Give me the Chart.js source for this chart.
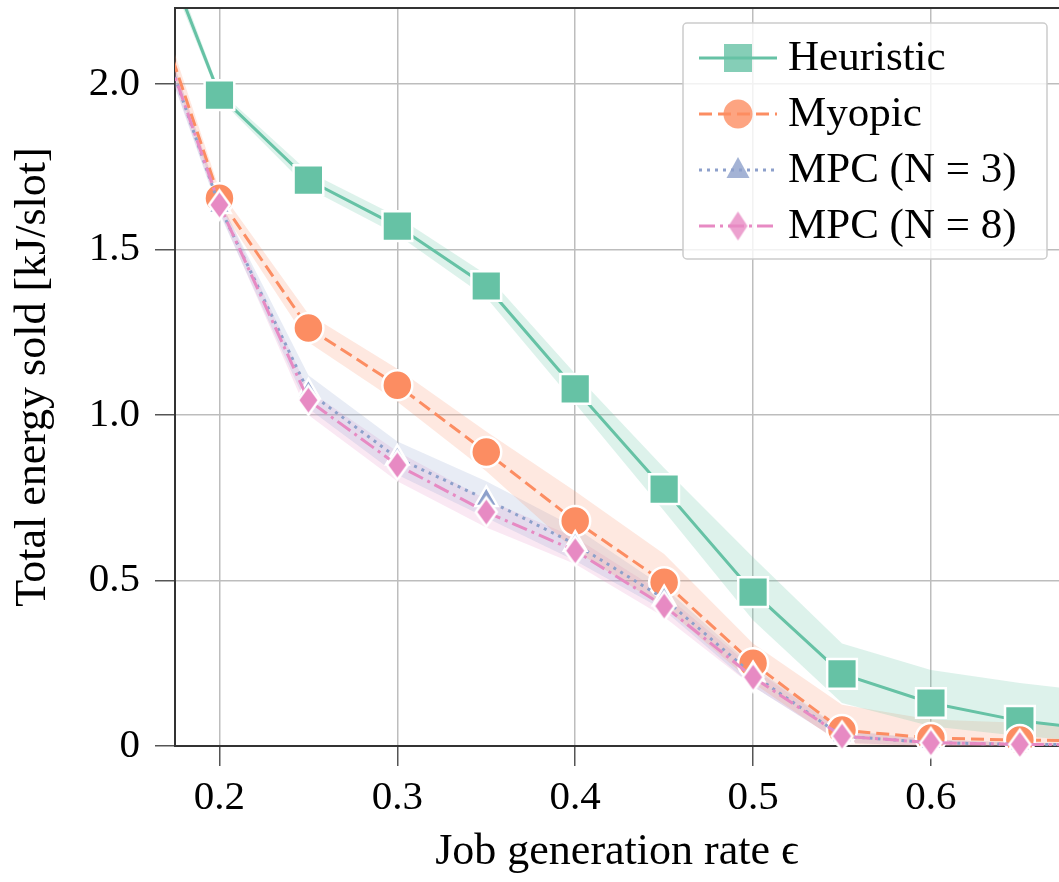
<!DOCTYPE html>
<html>
<head>
<meta charset="utf-8">
<script src="https://cdn.jsdelivr.net/npm/chart.js@4.4.1/dist/chart.umd.min.js"></script>
<style>
  html, body { margin: 0; padding: 0; background: #fff; }
  #wrap { width: 1059px; height: 882px; }
</style>
</head>
<body>
<div id="wrap"><canvas id="energyChart" width="1059" height="882"></canvas></div>
<script>
// --- Datos ---
const rates = [0.15, 0.2, 0.25, 0.3, 0.35, 0.4, 0.45, 0.5, 0.55, 0.6, 0.65, 0.7];

const heuristic     = [2.66, 1.967, 1.71, 1.571, 1.39, 1.079, 0.776, 0.465, 0.218, 0.13, 0.076, 0.046];
const heuristicHigh = [2.70, 1.980, 1.735, 1.60, 1.425, 1.125, 0.840, 0.570, 0.310, 0.23, 0.190, 0.160];
const heuristicLow  = [2.62, 1.955, 1.685, 1.545, 1.355, 1.035, 0.710, 0.380, 0.130, 0.06, 0.030, 0.010];

const myopic     = [2.455, 1.655, 1.263, 1.09, 0.888, 0.68, 0.495, 0.25, 0.048, 0.024, 0.018, 0.015];
const myopicHigh = [2.50, 1.680, 1.305, 1.14, 0.950, 0.77, 0.580, 0.31, 0.125, 0.080, 0.070, 0.060];
const myopicLow  = [2.41, 1.630, 1.220, 1.04, 0.830, 0.59, 0.420, 0.19, 0.005, 0.000, 0.000, 0.000];

const mpc3     = [2.41, 1.63, 1.07, 0.87, 0.745, 0.61, 0.445, 0.215, 0.03, 0.01, 0.005, 0.003];
const mpc3High = [2.45, 1.65, 1.12, 0.92, 0.800, 0.66, 0.480, 0.240, 0.05, 0.02, 0.010, 0.008];
const mpc3Low  = [2.37, 1.61, 1.02, 0.82, 0.690, 0.56, 0.410, 0.180, 0.01, 0.00, 0.000, 0.000];

const mpc8     = [2.41, 1.635, 1.045, 0.849, 0.707, 0.59, 0.423, 0.208, 0.03, 0.01, 0.005, 0.003];
const mpc8High = [2.45, 1.655, 1.075, 0.890, 0.745, 0.63, 0.460, 0.235, 0.045, 0.02, 0.010, 0.008];
const mpc8Low  = [2.37, 1.615, 1.000, 0.800, 0.660, 0.55, 0.390, 0.180, 0.010, 0.00, 0.000, 0.000];

const seriesNames = ['Heuristic', 'Myopic', 'MPC (N = 3)', 'MPC (N = 8)'];
const xTicks = [0.2, 0.3, 0.4, 0.5, 0.6];
const yTicks = [0, 0.5, 1.0, 1.5, 2.0];

// --- Estilos ---
const FONT = "'Liberation Serif', 'Times New Roman', serif";
const colors = ['#66c2a5', '#fc8d62', '#8da0cb', '#e78ac3'];
const bandColors = ['rgba(102,194,165,0.22)', 'rgba(252,141,98,0.2)', 'rgba(141,160,203,0.2)', 'rgba(231,138,195,0.2)'];
const dashes = [[], [13, 6], [3, 5], [16, 5, 3, 5]];

function toPoints(arr) {
    return rates.map((x, i) => ({ x: x, y: arr[i] }));
}

// rombo delgado como en matplotlib ('d')
function makeDiamond(w, h, fill, edge, lw, alpha) {
    const m = 5;
    const c = document.createElement('canvas');
    c.width = w + 2 * m;
    c.height = h + 2 * m;
    const g = c.getContext('2d');
    g.globalAlpha = alpha;
    g.beginPath();
    g.moveTo(c.width / 2, m);
    g.lineTo(c.width / 2 + w / 2, c.height / 2);
    g.lineTo(c.width / 2, c.height - m);
    g.lineTo(c.width / 2 - w / 2, c.height / 2);
    g.closePath();
    g.fillStyle = fill;
    g.fill();
    if (edge) {
        g.lineWidth = lw;
        g.strokeStyle = edge;
        g.stroke();
    }
    return c;
}
const plotDiamond = makeDiamond(21, 29, colors[3], '#fff', 2.5, 1);
const legendDiamond = makeDiamond(19, 29, colors[3], null, 0, 0.8);

const bandSets = [
    [heuristicHigh, heuristicLow],
    [myopicHigh, myopicLow],
    [mpc3High, mpc3Low],
    [mpc8High, mpc8Low]
];
const lineSets = [heuristic, myopic, mpc3, mpc8];
const pointStyles = ['rect', 'circle', 'triangle', plotDiamond];
const pointRadii = [21, 15, 13, 14];

const datasets = [];
bandSets.forEach((pair, i) => {
    datasets.push({ data: toPoints(pair[0]), borderWidth: 0, pointRadius: 0, fill: false, order: 10 });
    datasets.push({ data: toPoints(pair[1]), borderWidth: 0, pointRadius: 0, fill: '-1', backgroundColor: bandColors[i], order: 10 });
});
lineSets.forEach((vals, i) => {
    datasets.push({
        label: seriesNames[i],
        data: toPoints(vals),
        borderColor: colors[i],
        backgroundColor: colors[i],
        borderWidth: 3,
        borderDash: dashes[i],
        tension: 0,
        fill: false,
        pointStyle: pointStyles[i],
        pointRadius: pointRadii[i],
        pointBackgroundColor: colors[i],
        pointBorderColor: '#fff',
        pointBorderWidth: 2.5,
        clip: { left: 0, top: 0, right: 0, bottom: 20 },
        order: 4 - i
    });
});

// --- Marco superior y leyenda ---
const framePlugin = {
    id: 'topFrame',
    afterDraw(chart) {
        const { ctx, chartArea } = chart;
        ctx.save();
        ctx.strokeStyle = '#333';
        ctx.lineWidth = 2;
        ctx.beginPath();
        ctx.moveTo(chartArea.left, chartArea.top);
        ctx.lineTo(chartArea.right, chartArea.top);
        ctx.stroke();
        ctx.restore();
    }
};

function drawLegendMarker(ctx, i, x, y) {
    ctx.save();
    ctx.globalAlpha = 0.8;
    ctx.fillStyle = colors[i];
    ctx.beginPath();
    if (i === 0) {
        ctx.rect(x - 14, y - 14, 28, 28);
    } else if (i === 1) {
        ctx.arc(x, y, 14.5, 0, Math.PI * 2);
    } else if (i === 2) {
        ctx.moveTo(x, y - 13);
        ctx.lineTo(x + 11.5, y + 8);
        ctx.lineTo(x - 11.5, y + 8);
        ctx.closePath();
    }
    ctx.fill();
    ctx.restore();
    if (i === 3) {
        ctx.drawImage(legendDiamond, x - legendDiamond.width / 2, y - legendDiamond.height / 2);
    }
}

const legendPlugin = {
    id: 'cornerLegend',
    afterDraw(chart) {
        const { ctx, chartArea } = chart;
        const bx = chartArea.left + 508, by = chartArea.top + 15, bw = 364, bh = 236;
        ctx.save();
        ctx.fillStyle = 'rgba(255,255,255,0.8)';
        ctx.strokeStyle = '#cccccc';
        ctx.lineWidth = 1.5;
        ctx.beginPath();
        ctx.roundRect(bx, by, bw, bh, 4);
        ctx.fill();
        ctx.stroke();

        seriesNames.forEach((name, i) => {
            const y = by + 35 + i * 56;
            ctx.save();
            ctx.strokeStyle = colors[i];
            ctx.lineWidth = 3;
            ctx.setLineDash(dashes[i]);
            ctx.beginPath();
            ctx.moveTo(bx + 16, y);
            ctx.lineTo(bx + 94, y);
            ctx.stroke();
            ctx.restore();
            drawLegendMarker(ctx, i, bx + 55, y);
            ctx.fillStyle = '#000';
            ctx.font = '43px ' + FONT;
            ctx.textBaseline = 'middle';
            ctx.textAlign = 'left';
            ctx.fillText(name, bx + 105, y + 1);
        });
        ctx.restore();
    }
};

const tickFont = { family: FONT, size: 41 };
const titleFont = { family: FONT, size: 44 };

const energyChart = new Chart(document.getElementById('energyChart').getContext('2d'), {
    type: 'line',
    data: { datasets: datasets },
    options: {
        responsive: false,
        animation: false,
        events: [],
        layout: { autoPadding: false, padding: { top: 8, right: 0, left: 0, bottom: 0 } },
        plugins: { legend: { display: false }, tooltip: { enabled: false } },
        scales: {
            x: {
                type: 'linear',
                min: 0.175,
                max: 0.672,
                afterBuildTicks: s => { s.ticks = xTicks.map(v => ({ value: v })); },
                afterFit: s => { s.height = 136; s.paddingLeft = 0; s.paddingRight = 0; },
                ticks: { font: tickFont, color: '#000', padding: 8, maxRotation: 0, autoSkip: false, callback: v => v.toFixed(1) },
                grid: { color: '#bdbdbd', lineWidth: 1.5, tickLength: 20, tickColor: '#555', tickWidth: 1.5 },
                border: { color: '#333', width: 2 },
                title: { display: true, text: 'Job generation rate ϵ', font: titleFont, color: '#000', padding: { top: 0, bottom: 3 } }
            },
            y: {
                min: 0,
                max: 2.23,
                afterBuildTicks: s => { s.ticks = yTicks.map(v => ({ value: v })); },
                afterFit: s => { s.width = 175; s.paddingTop = 0; s.paddingBottom = 0; },
                ticks: { font: tickFont, color: '#000', padding: 15, callback: v => (v === 0 ? '0' : v.toFixed(1)) },
                grid: { color: '#bdbdbd', lineWidth: 1.5, tickLength: 20, tickColor: '#555', tickWidth: 1.5 },
                border: { color: '#333', width: 2 },
                title: { display: true, text: 'Total energy sold [kJ/slot]', font: titleFont, color: '#000', padding: { top: 7, bottom: 0 } }
            }
        }
    },
    plugins: [framePlugin, legendPlugin]
});
</script>
</body>
</html>
